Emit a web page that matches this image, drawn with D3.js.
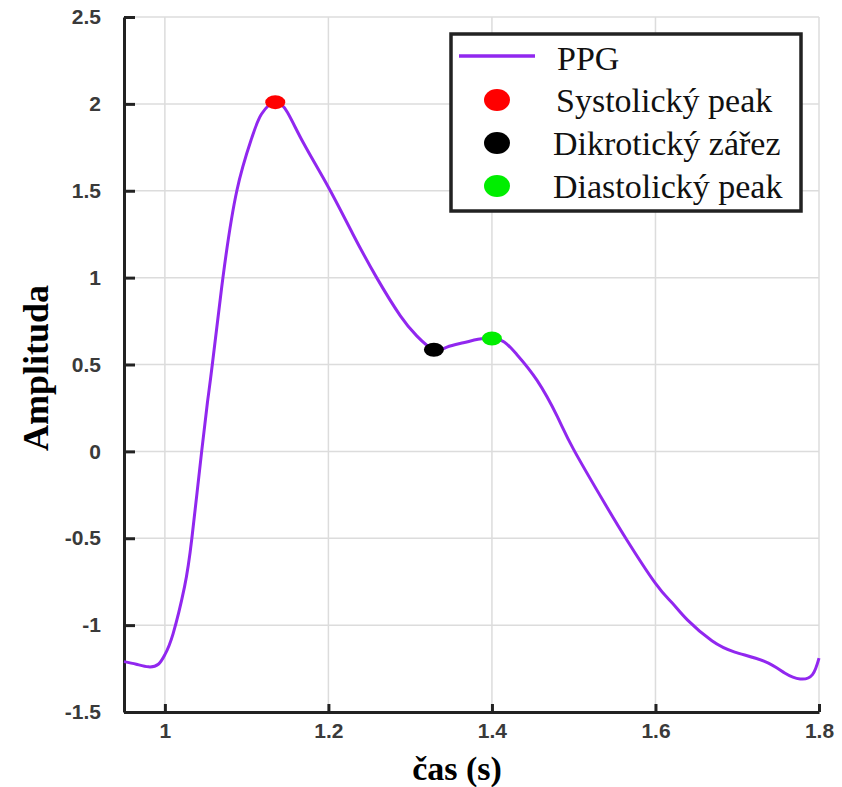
<!DOCTYPE html>
<html>
<head>
<meta charset="utf-8">
<script src="https://cdn.jsdelivr.net/npm/d3@7"></script>
<style>
  body { margin: 0; background: #fff; }
</style>
</head>
<body>
<div id="chart"></div>
<script>
// PPG waveform
const time = [0.95, 0.965, 0.98, 0.992, 1.0, 1.01, 1.024, 1.033, 1.045, 1.052, 1.058, 1.071, 1.088,
  1.106, 1.118, 1.135, 1.15, 1.17, 1.2, 1.23, 1.259, 1.288, 1.308, 1.329, 1.345, 1.365, 1.383,
  1.4, 1.415, 1.43, 1.455, 1.48, 1.5, 1.538, 1.565, 1.6, 1.62, 1.639, 1.669, 1.697, 1.734, 1.758,
  1.777, 1.792, 1.8];
const amplitude = [-1.21, -1.225, -1.24, -1.225, -1.17, -1.05, -0.78, -0.5, 0.0, 0.28, 0.5, 1.0, 1.5,
  1.8, 1.94, 2.01, 1.95, 1.77, 1.52, 1.25, 1.0, 0.78, 0.665, 0.585, 0.6, 0.625, 0.645,
  0.65, 0.63, 0.56, 0.41, 0.2, 0.01, -0.3, -0.51, -0.76, -0.87, -0.97, -1.09, -1.155, -1.21, -1.275,
  -1.31, -1.285, -1.19];

const pointNames = ["Systolický peak", "Dikrotický zářez", "Diastolický peak"];
const pointTime = [1.135, 1.329, 1.4];
const pointAmp = [2.01, 0.585, 0.65];
const pointColors = ["#ff0000", "#000000", "#00ee00"];

const xTicks = [1, 1.2, 1.4, 1.6, 1.8];
const yTicks = [-1.5, -1, -0.5, 0, 0.5, 1, 1.5, 2, 2.5];

const width = 842, height = 787;
const lineColor = "#9127ef";

const svg = d3.select("#chart").append("svg")
  .attr("width", width)
  .attr("height", height);

const x = d3.scaleLinear().domain([0.95, 1.8]).range([124, 819]);
const y = d3.scaleLinear().domain([-1.5, 2.5]).range([712, 17]);

// grid
svg.append("g").selectAll("line").data(xTicks).join("line")
  .attr("x1", d => x(d)).attr("x2", d => x(d))
  .attr("y1", y(2.5)).attr("y2", y(-1.5))
  .attr("stroke", "#dcdcdc").attr("stroke-width", 1.5);
svg.append("g").selectAll("line").data(yTicks).join("line")
  .attr("x1", x(0.95)).attr("x2", x(1.8))
  .attr("y1", d => y(d)).attr("y2", d => y(d))
  .attr("stroke", "#dcdcdc").attr("stroke-width", 1.5);

// plain hyphen for negatives, like the original
const fmt = d => String(d);

const xAxis = svg.append("g")
  .attr("transform", `translate(0,${y(-1.5)})`)
  .call(d3.axisBottom(x).tickValues(xTicks).tickSizeInner(-8).tickSizeOuter(0).tickPadding(11).tickFormat(fmt));
const yAxis = svg.append("g")
  .attr("transform", `translate(${x(0.95)},0)`)
  .call(d3.axisLeft(y).tickValues(yTicks).tickSizeInner(-11).tickSizeOuter(0).tickPadding(23).tickFormat(fmt));

[xAxis, yAxis].forEach(a => {
  a.select(".domain").attr("stroke", "#222").attr("stroke-width", 3);
  a.selectAll(".tick line").attr("stroke", "#222").attr("stroke-width", 3);
  a.selectAll(".tick text")
    .attr("fill", "#3a3a3a")
    .style("font-family", "Liberation Sans, Arial, sans-serif")
    .style("font-weight", "bold")
    .style("font-size", "21px");
});

// curve
const line = d3.line()
  .x((d, i) => x(time[i]))
  .y((d, i) => y(amplitude[i]))
  .curve(d3.curveNatural);

svg.append("path")
  .datum(amplitude)
  .attr("d", line)
  .attr("fill", "none")
  .attr("stroke", lineColor)
  .attr("stroke-width", 3);

// characteristic points
svg.append("g").selectAll("ellipse").data(pointNames).join("ellipse")
  .attr("cx", (d, i) => x(pointTime[i]))
  .attr("cy", (d, i) => y(pointAmp[i]))
  .attr("rx", 10).attr("ry", 7)
  .attr("fill", (d, i) => pointColors[i]);

// axis titles
svg.append("text")
  .attr("x", 457).attr("y", 780)
  .attr("text-anchor", "middle")
  .style("font-family", "Liberation Serif, Times New Roman, serif")
  .style("font-weight", "bold")
  .style("font-size", "34px")
  .text("čas (s)");
svg.append("text")
  .attr("transform", "translate(48,368) rotate(-90)")
  .attr("text-anchor", "middle")
  .style("font-family", "Liberation Serif, Times New Roman, serif")
  .style("font-weight", "bold")
  .style("font-size", "36px")
  .text("Amplituda");

// legend
const legend = svg.append("g");
legend.append("rect")
  .attr("x", 451).attr("y", 34)
  .attr("width", 350).attr("height", 177)
  .attr("fill", "#fff")
  .attr("stroke", "#222").attr("stroke-width", 3.5);

const legendFont = sel => sel
  .style("font-family", "Liberation Serif, Times New Roman, serif")
  .style("font-size", "34px")
  .attr("fill", "#111");

legend.append("line")
  .attr("x1", 459).attr("x2", 535)
  .attr("y1", 56).attr("y2", 56)
  .attr("stroke", lineColor).attr("stroke-width", 3.5);
legend.append("text")
  .attr("x", 557).attr("y", 70)
  .call(legendFont)
  .text("PPG");

legend.selectAll("ellipse").data(pointNames).join("ellipse")
  .attr("cx", 497)
  .attr("cy", (d, i) => 100 + i * 43)
  .attr("rx", 13).attr("ry", 11)
  .attr("fill", (d, i) => pointColors[i]);
legend.selectAll("text.item").data(pointNames).join("text")
  .attr("class", "item")
  .attr("x", (d, i) => i === 0 ? 556 : 553)
  .attr("y", (d, i) => 112 + i * 43)
  .call(legendFont)
  .text(d => d);
</script>
</body>
</html>
